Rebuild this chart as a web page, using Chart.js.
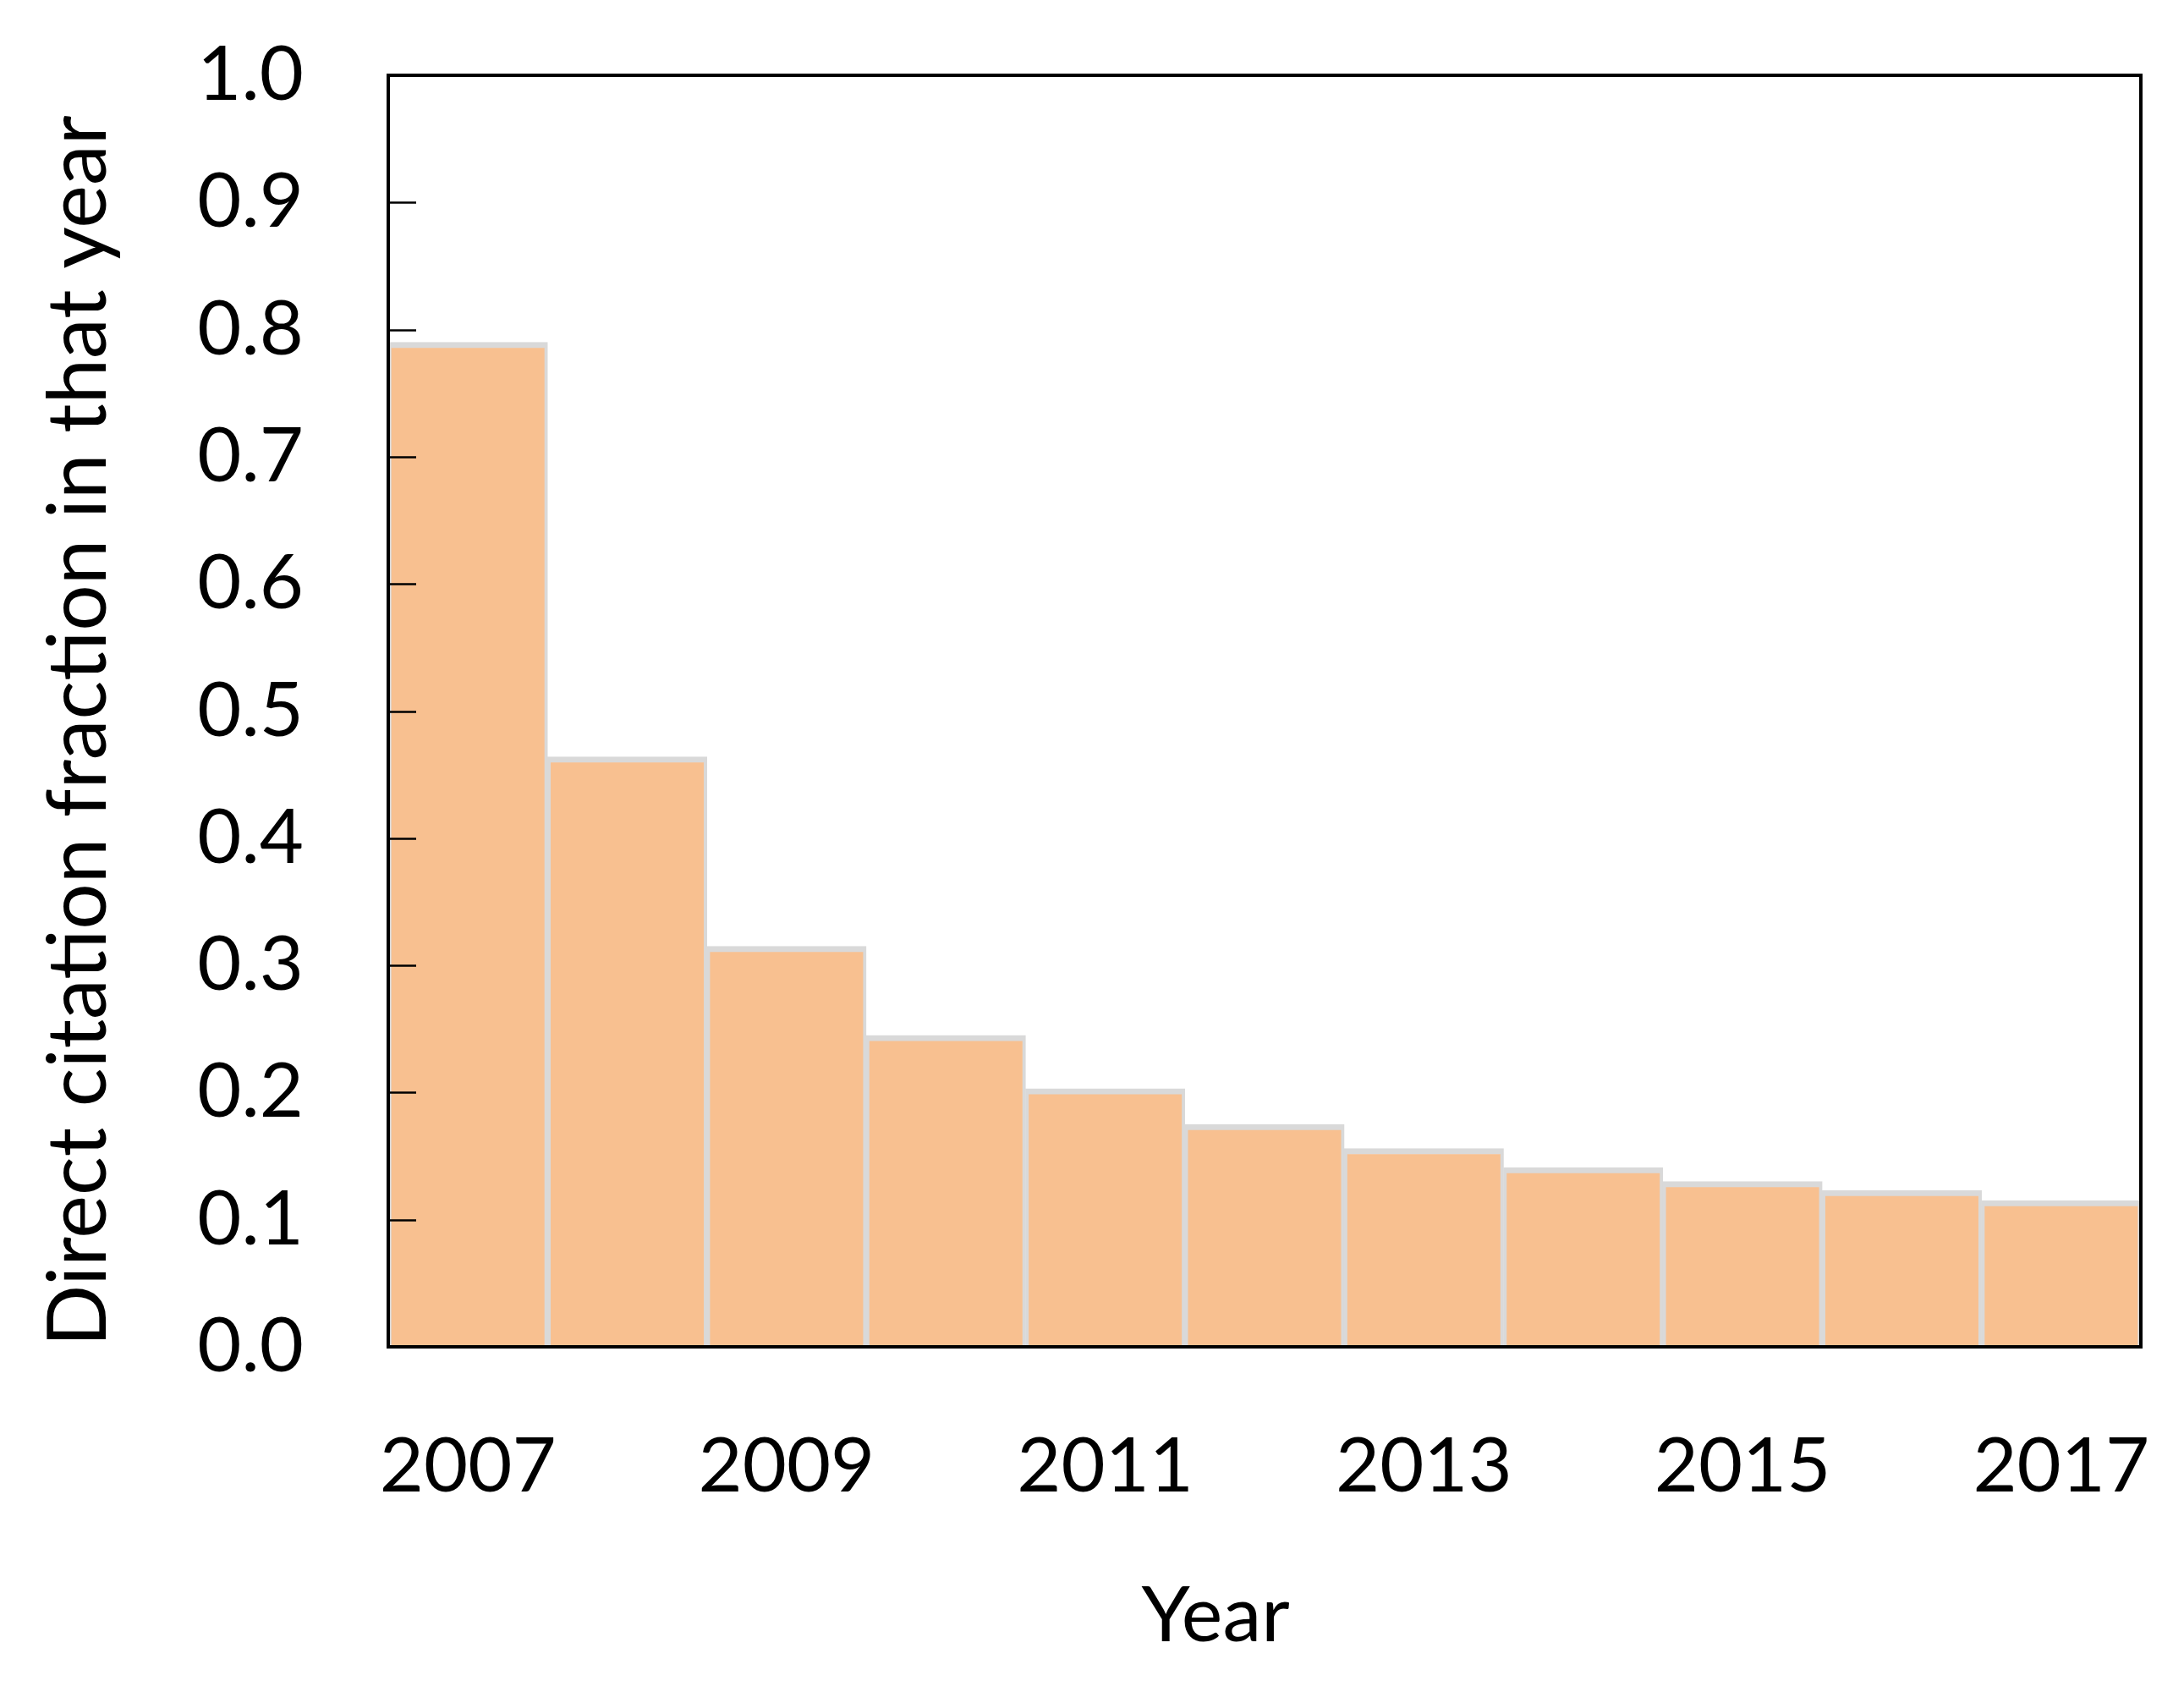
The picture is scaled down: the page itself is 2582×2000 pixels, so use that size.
<!DOCTYPE html>
<html>
<head>
<meta charset="utf-8">
<script src="https://cdn.jsdelivr.net/npm/chart.js@4/dist/chart.umd.min.js"></script>
<style>
  html, body { margin: 0; padding: 0; background: #fff; }
  canvas { display: block; }
</style>
</head>
<body>
<canvas id="fracChart" width="2582" height="2000"></canvas>
<script>
// Data
const years = ['2007', '2008', '2009', '2010', '2011', '2012', '2013', '2014', '2015', '2016', '2017'];
const fraction = [0.790, 0.464, 0.315, 0.245, 0.203, 0.175, 0.156, 0.141, 0.130, 0.123, 0.115];
const yTicks = [0.0, 0.1, 0.2, 0.3, 0.4, 0.5, 0.6, 0.7, 0.8, 0.9, 1.0];

const FONT = 'Lato, "Open Sans", sans-serif';
const NB = '\u00A0';

// Box round plot area + inward ticks on the y axis
const framePlugin = {
  id: 'frame',
  afterDraw(chart) {
    const { ctx, chartArea: a } = chart;
    const y = chart.scales.y;
    ctx.save();
    ctx.strokeStyle = '#000';
    ctx.lineWidth = 2.5;
    yTicks.forEach(v => {
      const py = Math.round(y.getPixelForValue(v)) + 0.5;
      ctx.beginPath();
      ctx.moveTo(a.left, py);
      ctx.lineTo(a.left + 33, py);
      ctx.stroke();
    });
    ctx.lineWidth = 4;
    ctx.strokeRect(a.left, a.top, a.right - a.left, a.bottom - a.top);
    ctx.restore();
  }
};

new Chart(document.getElementById('fracChart'), {
  type: 'bar',
  data: {
    labels: years,
    datasets: [{
      data: fraction,
      backgroundColor: '#F8C090',
      borderColor: '#D9D9D9',
      borderWidth: { top: 7, left: 4, right: 4, bottom: 0 },
      borderSkipped: false,
      categoryPercentage: 1.0,
      barPercentage: 1.0
    }]
  },
  options: {
    responsive: false,
    animation: false,
    layout: { padding: { top: 89, right: 51, left: 0, bottom: 0 } },
    plugins: { legend: { display: false }, tooltip: { enabled: false } },
    scales: {
      x: {
        grid: { display: false, drawTicks: false },
        border: { display: false },
        ticks: {
          color: '#000',
          font: { family: FONT, size: 90 },
          padding: 88,
          maxRotation: 0,
          autoSkip: false,
          callback: (v, i) => (i % 2 === 0 ? years[i] : '')
        },
        title: {
          display: true,
          text: 'Year' + NB.repeat(5),
          color: '#000',
          font: { family: FONT, size: 92 },
          padding: { top: 0, bottom: 34 }
        },
        afterFit: s => { s.height = 408; s.paddingLeft = 0; s.paddingRight = 0; }
      },
      y: {
        min: 0,
        max: 1,
        grid: { display: false, drawTicks: false },
        border: { display: false },
        afterBuildTicks: s => { s.ticks = yTicks.map(v => ({ value: v })); },
        ticks: {
          color: '#000',
          font: { family: FONT, size: 90 },
          padding: 100,
          callback: v => v.toFixed(1)
        },
        title: {
          display: true,
          text: 'Direct citation fraction in that year' + NB.repeat(2),
          color: '#000',
          font: { family: FONT, size: 96 },
          padding: { top: 36, bottom: 0 }
        },
        afterFit: s => { s.width = 459; s.paddingTop = 0; s.paddingBottom = 0; }
      }
    }
  },
  plugins: [framePlugin]
});
</script>
</body>
</html>
